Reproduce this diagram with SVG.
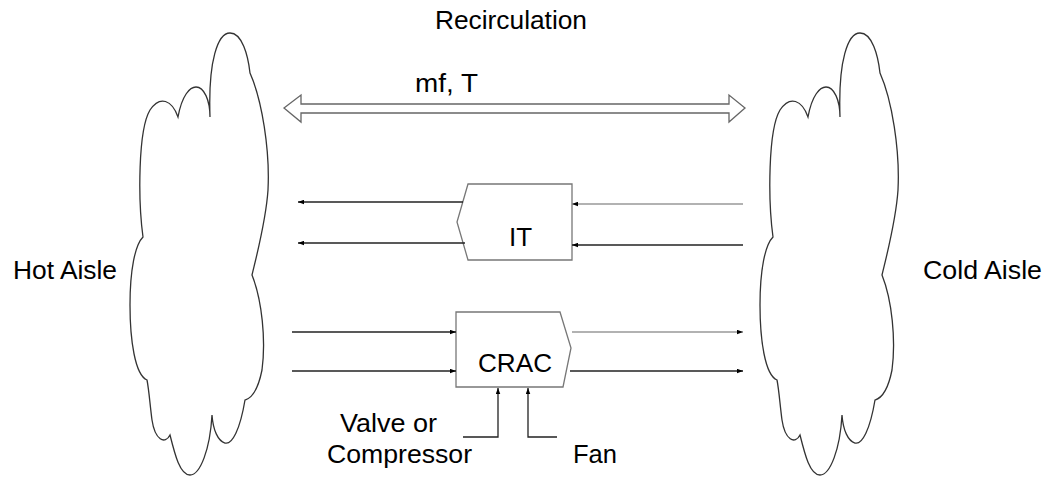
<svg xmlns="http://www.w3.org/2000/svg" width="1050" height="477" viewBox="0 0 1050 477">
<style>
text{font-family:"Liberation Sans",Arial,sans-serif;font-size:26px;fill:#000}
.cloud{fill:#fff;stroke:#333;stroke-width:1.3}
.box{fill:#fff;stroke:#777;stroke-width:1.3}
.ln{stroke:#222;stroke-width:1.3;fill:none}
.lt{stroke:#999;stroke-width:1.5;fill:none}
</style>
<defs>
<marker id="ah" viewBox="0 0 8 6" refX="8" refY="3" markerWidth="6" markerHeight="5" markerUnits="userSpaceOnUse" orient="auto"><path d="M0,0L8,3L0,6Z" fill="#000"/></marker>
<path id="cloudShape" d="M210,117 C208,60 218,33 230,33 C242,33 248,55 250,73 C262,100 270,150 268,190 C266,220 258,250 252,275 C262,300 266,340 262,370 C258,390 252,398 245,400 C240,430 232,445 225,443 C218,441 213,430 212,415 C210,450 200,475 190,475 C180,475 175,455 170,435 C165,445 155,440 152,420 C150,405 149,390 147,380 C135,375 130,340 130,305 C130,270 135,245 143,237 C138,200 138,130 150,110 C160,95 172,100 178,117 C182,95 190,87 196,87 C204,87 210,100 210,117 Z"/>
</defs>
<g id="hot-aisle">
<use href="#cloudShape" class="cloud"/>
<text x="13" y="279" textLength="104" lengthAdjust="spacingAndGlyphs">Hot Aisle</text>
</g>
<g id="cold-aisle">
<use href="#cloudShape" class="cloud" transform="translate(630,0)"/>
<text x="923" y="279" textLength="119" lengthAdjust="spacingAndGlyphs">Cold Aisle</text>
</g>
<g id="recirculation">
<text x="435" y="29" textLength="152" lengthAdjust="spacingAndGlyphs">Recirculation</text>
<text x="415" y="92" textLength="63" lengthAdjust="spacingAndGlyphs">mf, T</text>
<polygon points="284,108 301,95 301,104 729,104 729,95 745,108 729,122 729,113 301,113 301,122" fill="#fff" stroke="#666" stroke-width="1.3"/>
</g>
<g id="it">
<polygon class="box" points="468,184 572,184 572,260 468,260 457,222"/>
<text x="509" y="246">IT</text>
</g>
<g id="crac">
<polygon class="box" points="456,312 560,312 571,348 563,387 456,387"/>
<text x="478" y="372" textLength="74" lengthAdjust="spacingAndGlyphs">CRAC</text>
</g>
<g id="controls">
<text x="340" y="432" textLength="97" lengthAdjust="spacingAndGlyphs">Valve or</text>
<text x="327" y="463" textLength="145" lengthAdjust="spacingAndGlyphs">Compressor</text>
<text x="573" y="463" textLength="44" lengthAdjust="spacingAndGlyphs">Fan</text>
</g>
<g id="connectors">
<line class="ln" x1="463" y1="202" x2="298" y2="202" marker-end="url(#ah)"/>
<line class="ln" x1="465" y1="243" x2="298" y2="243" marker-end="url(#ah)"/>
<line class="lt" x1="743" y1="204" x2="572" y2="204" marker-end="url(#ah)"/>
<line class="ln" x1="743" y1="245" x2="572" y2="245" marker-end="url(#ah)"/>
<line class="ln" x1="292" y1="332" x2="456" y2="332" marker-end="url(#ah)"/>
<line class="ln" x1="292" y1="371" x2="456" y2="371" marker-end="url(#ah)"/>
<line class="lt" x1="572" y1="332" x2="743" y2="332" marker-end="url(#ah)"/>
<line class="ln" x1="570" y1="371" x2="743" y2="371" marker-end="url(#ah)"/>
<polyline class="ln" points="463,437 498,437 498,388" marker-end="url(#ah)"/>
<polyline class="ln" points="557,437 528,437 528,388" marker-end="url(#ah)"/>
</g>
</svg>
